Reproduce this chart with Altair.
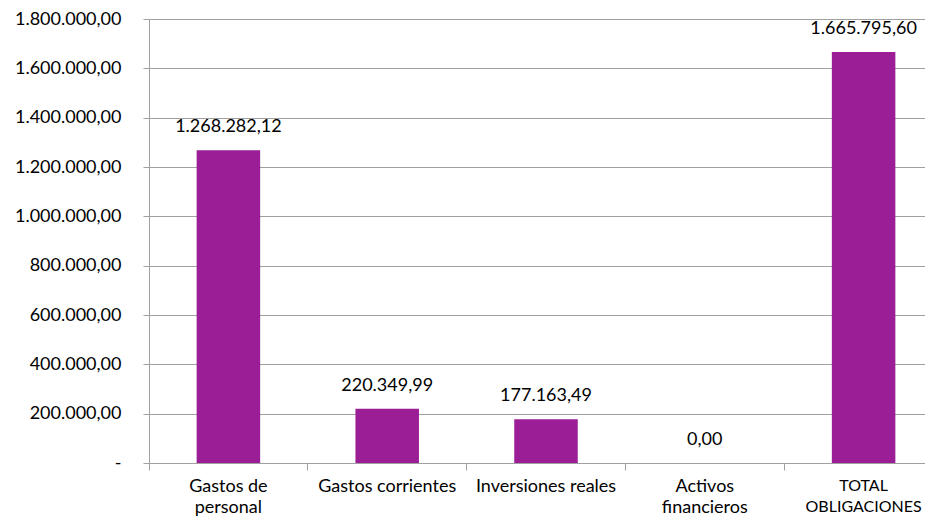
import altair as alt
import pandas as pd

categories = ["Gastos de personal", "Gastos corrientes", "Inversiones reales",
              "Activos financieros", "TOTAL OBLIGACIONES"]
values = [1268282.12, 220349.99, 177163.49, 0.00, 1665795.60]
label_lines = {
    "Gastos de personal": ["Gastos de", "personal"],
    "Gastos corrientes": ["Gastos corrientes"],
    "Inversiones reales": ["Inversiones reales"],
    "Activos financieros": ["Activos", "financieros"],
    "TOTAL OBLIGACIONES": ["TOTAL", "OBLIGACIONES"],
}
y_ticks = [0, 200000, 400000, 600000, 800000, 1000000, 1200000, 1400000, 1600000, 1800000]

df = pd.DataFrame({"cat": categories, "val": values})

FONT = "Lato"
FS = 18
GRAY = "#a0a0a0"
BAR = "#9b1e97"

def es_fmt(field):
    return ("replace(replace(replace(format(" + field + ", ',.2f'), regexp(',', 'g'), '_'), '.', ','), "
            "regexp('_', 'g'), '.')")

lab_expr = ""
for k, v in label_lines.items():
    arr = "[" + ",".join("'" + s + "'" for s in v) + "]"
    lab_expr += f"datum.value == '{k}' ? {arr} : "
lab_expr += "datum.value"

x = alt.X("cat:N", sort=categories, title=None,
          scale=alt.Scale(paddingInner=0, paddingOuter=0, range=[0, 794]),
          axis=alt.Axis(bandPosition=0, labelAngle=0, labelFont=FONT,
                        labelFontSize={"condition": {"test": "datum.value == 'TOTAL OBLIGACIONES'",
                                                     "value": 16}, "value": FS},
                        labelColor="#000000", labelPadding=7, labelLineHeight=21,
                        labelExpr=lab_expr, tickSize=7, tickColor=GRAY, domainColor=GRAY,
                        labelBaseline="top", grid=False))
y = alt.Y("val:Q", title=None,
          scale=alt.Scale(domain=[0, 1800000], nice=False),
          axis=alt.Axis(values=y_ticks, labelFont=FONT, labelFontSize=FS, labelColor="#000000",
                        labelExpr="datum.value == 0 ? '-' : " + es_fmt("datum.value"),
                        tickSize=6, tickColor=GRAY, domainColor=GRAY, gridColor=GRAY,
                        labelPadding=22, grid=True))

bars = alt.Chart(df).mark_bar(color=BAR, width=alt.RelativeBandSize(0.4)).encode(x=x, y=y)
texts = alt.Chart(df).transform_calculate(
    lbl=es_fmt("datum.val")
).mark_text(font=FONT, fontSize=FS, color="#000000", baseline="middle", dy=-23).encode(
    x=alt.X("cat:N", sort=categories), y=alt.Y("val:Q"), text="lbl:N")

chart = alt.layer(bars, texts).properties(
    width=776, height=444,
    padding={"left": 141, "top": 11, "right": 0, "bottom": 55},
    autosize=alt.AutoSizeParams(type="none"),
).configure_view(stroke=None).configure_axis(domainWidth=1, gridWidth=1, tickWidth=1)

chart.save("out.html", embed_options={"renderer": "svg", "actions": False})
